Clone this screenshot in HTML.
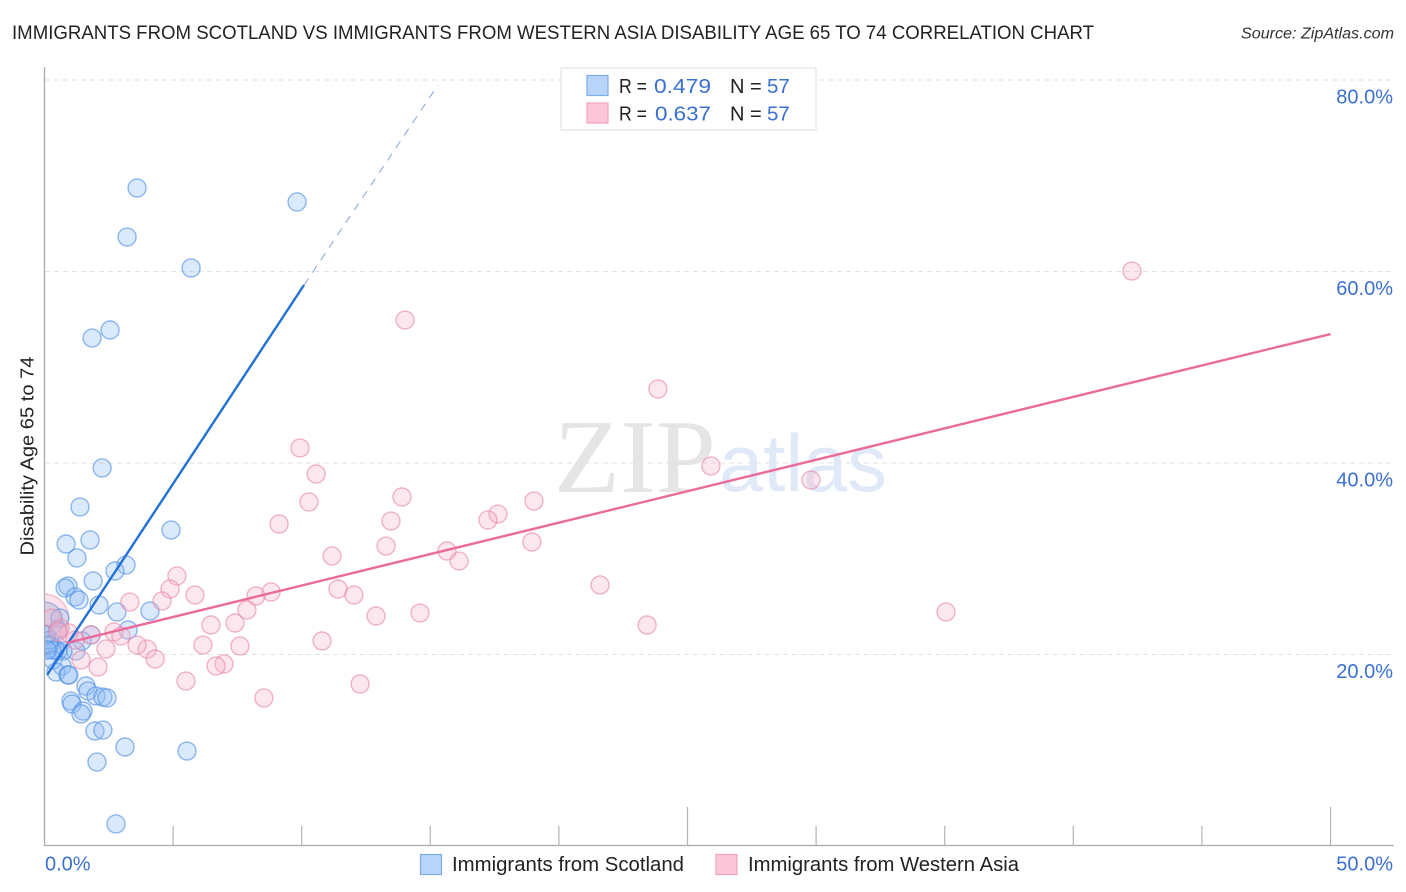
<!DOCTYPE html>
<html lang="en">
<head>
<meta charset="utf-8">
<title>Immigrants from Scotland vs Immigrants from Western Asia Disability Age 65 to 74 Correlation Chart</title>
<style>
html,body{margin:0;padding:0;background:#fff;width:1406px;height:892px;overflow:hidden}
svg{display:block}
text{font-family:"Liberation Sans",sans-serif}
</style>
</head>
<body>
<svg id="chart" xmlns="http://www.w3.org/2000/svg" width="1406" height="892" viewBox="0 0 1406 892">
  <defs>
    <clipPath id="plot-clip"><rect x="45" y="60" width="1349" height="785"/></clipPath>
  </defs>
  <rect x="0" y="0" width="1406" height="892" fill="#fff"/>
  <text x="12" y="39" font-size="19.5" fill="#222" textLength="1082" lengthAdjust="spacingAndGlyphs">IMMIGRANTS FROM SCOTLAND VS IMMIGRANTS FROM WESTERN ASIA DISABILITY AGE 65 TO 74 CORRELATION CHART</text>
  <text x="1241" y="38.5" font-size="15.5" font-style="italic" fill="#333" textLength="153" lengthAdjust="spacingAndGlyphs">Source: ZipAtlas.com</text>
  <g>
    <text x="554" y="492" font-size="105" fill="#e5e5e5" style="font-family:'Liberation Serif',serif" textLength="162" lengthAdjust="spacingAndGlyphs">ZIP</text>
    <text x="719" y="491" font-size="81" fill="#dfe9f8" textLength="168" lengthAdjust="spacingAndGlyphs">atlas</text>
  </g>
  <g id="grid"></g>
  <g id="axes"></g>
  <g id="points" clip-path="url(#plot-clip)"></g>
  <g id="trends"></g>
  <g id="ylabels"></g>
  <text transform="translate(33.5,456) rotate(-90)" text-anchor="middle" font-size="18.5" fill="#222" textLength="199" lengthAdjust="spacingAndGlyphs">Disability Age 65 to 74</text>
  <text x="45" y="870.500" font-size="20" fill="#3b70d2">0.0%</text>
  <text x="1393" y="870.500" text-anchor="end" font-size="20" fill="#3b70d2">50.0%</text>

  <g>
    <rect x="561" y="68" width="255" height="62" fill="#fff" stroke="#e2e2e2" stroke-width="1.2"/>
    <rect x="587" y="75.500" width="21" height="20" fill="#b8d4f9" stroke="#7dace8" stroke-width="1.2"/>
    <rect x="587" y="103" width="21" height="20" fill="#fcc8d9" stroke="#f1a2bb" stroke-width="1.2"/>
    <text x="619" y="93" font-size="20" fill="#222" textLength="28" lengthAdjust="spacingAndGlyphs">R =</text>
    <text x="654" y="93" font-size="20.500" fill="#3b70d2" textLength="57" lengthAdjust="spacingAndGlyphs">0.479</text>
    <text x="730" y="93" font-size="20" fill="#222">N =</text>
    <text x="767" y="93" font-size="20.500" fill="#3b70d2">57</text>
    <text x="619" y="120.500" font-size="20" fill="#222" textLength="28" lengthAdjust="spacingAndGlyphs">R =</text>
    <text x="655" y="120.500" font-size="20.500" fill="#3b70d2" textLength="56" lengthAdjust="spacingAndGlyphs">0.637</text>
    <text x="730" y="120.500" font-size="20" fill="#222">N =</text>
    <text x="767" y="120.500" font-size="20.500" fill="#3b70d2">57</text>
  </g>

  <g>
    <rect x="420.500" y="854.500" width="21" height="20" fill="#b8d4f9" stroke="#7dace8" stroke-width="1.2"/>
    <text x="452" y="871" font-size="20" fill="#222" textLength="232" lengthAdjust="spacingAndGlyphs">Immigrants from Scotland</text>
    <rect x="716" y="854.500" width="21" height="20" fill="#fcc8d9" stroke="#f1a2bb" stroke-width="1.2"/>
    <text x="748" y="871" font-size="20" fill="#222" textLength="271" lengthAdjust="spacingAndGlyphs">Immigrants from Western Asia</text>
  </g>
</svg>
<script>
const xTicks = [0, 5, 10, 15, 20, 25, 30, 35, 40, 45, 50];
const xMajorTicks = [25, 50];
const yTicks = [20, 40, 60, 80];
const yTickLabels = ['20.0%', '40.0%', '60.0%', '80.0%'];

const scotlandX = [3.60,9.82,3.21,5.70,2.55,1.85,2.24,1.38,4.92,1.77,0.84,3.17,1.26,2.74,0.91,0.80,1.89,1.19,1.34,2.12,2.82,4.10,0.60,3.25,1.81,1.46,1.22,0.72,0.52,0.41,0.29,0.21,0.17,0.33,0.68,0.45,0.91,0.95,1.61,1.69,1.03,1.07,2.00,2.27,2.43,1.50,1.42,1.96,2.27,3.13,5.54,2.04,2.78,0.52,0.06,0.10];
const scotlandY = [68.72,67.26,63.60,60.37,53.89,53.05,39.48,35.40,33.00,31.96,31.54,29.35,30.08,28.72,27.15,26.95,27.68,26.01,25.69,25.17,24.44,24.54,23.81,22.56,22.04,21.41,20.37,20.37,20.37,20.47,20.47,21.51,20.99,19.43,18.80,18.17,17.86,17.86,16.71,16.19,15.14,14.83,15.67,15.56,15.46,14.10,13.79,12.01,12.11,10.34,9.92,8.77,2.30,22.56,22.04,20.47];
const scotlandLargeX = [0.00];
const scotlandLargeY = [23.60];

const westernAsiaX = [42.28,14.02,23.85,9.93,10.56,25.91,29.80,10.28,9.12,13.90,13.47,19.03,17.63,17.24,13.28,11.18,15.65,16.12,18.95,21.60,5.15,4.88,5.85,4.57,3.32,11.41,12.03,8.81,8.22,7.87,12.89,14.60,35.05,23.43,6.47,7.41,10.79,7.60,6.16,3.99,3.60,2.70,2.97,4.30,2.39,6.98,6.67,5.50,12.27,8.53,2.08,1.42,1.19,0.95,0.60,0.29,1.81,0.52];
const westernAsiaY = [60.05,54.93,47.73,41.57,38.85,39.69,38.22,35.93,33.63,36.45,33.94,36.03,34.67,34.05,31.33,30.29,30.81,29.76,31.75,27.26,28.20,26.84,26.21,25.59,25.48,26.84,26.21,26.53,26.11,24.65,24.02,24.33,24.44,23.08,23.08,23.29,21.41,20.89,20.99,20.57,20.99,22.35,21.93,19.53,20.57,19.01,18.80,17.23,16.92,15.46,18.69,19.43,21.51,22.25,22.77,23.81,22.04,22.35];
const westernAsiaLargeX = [0.00];
const westernAsiaLargeY = [23.80];

const scotlandTrendSolidX = [0.10, 10.09];
const scotlandTrendSolidY = [17.86, 58.59];
const scotlandTrendDashedX = [10.09, 15.30];
const scotlandTrendDashedY = [58.59, 79.48];
const westernAsiaTrendX = [0.86, 50.00];
const westernAsiaTrendY = [21.20, 53.47];

const NS = 'http://www.w3.org/2000/svg';
const xScale = function (v) { return 44.5 + v * 25.72; };
const yScale = function (v) { return 846 - v * 9.575; };

function make(parent, tag, attrs) {
  const el = document.createElementNS(NS, tag);
  for (const k in attrs) el.setAttribute(k, attrs[k]);
  parent.appendChild(el);
  return el;
}

const grid = document.getElementById('grid');
const axes = document.getElementById('axes');
const ylabels = document.getElementById('ylabels');
const points = document.getElementById('points');
const trends = document.getElementById('trends');

yTicks.forEach(function (t, i) {
  const line = make(grid, 'line', { x1: 45, x2: 1394, y1: yScale(t), y2: yScale(t), stroke: '#e2e2e2', 'stroke-width': 1, 'stroke-dasharray': '5 4' });
  
  
  const label = make(ylabels, 'text', { x: 1393, y: yScale(t) + 23.5, 'text-anchor': 'end', 'font-size': 20, fill: '#3b70d2' });
  label.textContent = yTickLabels[i];
  
  
});

const yAxis = make(axes, 'line', { x1: 44.5, x2: 44.5, y1: 67, y2: 846, stroke: '#aaa', 'stroke-width': 1.3 });


const xAxis = make(axes, 'line', { x1: 44, x2: 1394, y1: 845.5, y2: 845.5, stroke: '#aaa', 'stroke-width': 1.3 });



xTicks.forEach(function (t) {
  if (t === 0) return;
  const top = xMajorTicks.indexOf(t) >= 0 ? 807 : 826;
  const tick = make(axes, 'line', { x1: xScale(t), x2: xScale(t), y1: top, y2: 845, stroke: '#b4b4b4', 'stroke-width': 1.2 });
  
  
});

function drawSeries(xs, ys, radius, fill, stroke, name) {
  xs.forEach(function (x, i) {
    const c = make(points, 'circle', {
      cx: xScale(x), cy: yScale(ys[i]), r: radius,
      fill: fill, 'fill-opacity': 0.32,
      stroke: stroke, 'stroke-opacity': 0.62, 'stroke-width': 1.4
    });
    
    
  });
}

drawSeries(westernAsiaLargeX, westernAsiaLargeY, 24, '#f6a8c2', '#ef9fb9', 'point-western-asia-large');
drawSeries(scotlandLargeX, scotlandLargeY, 18, '#8fa8d8', '#7d9bd0', 'point-scotland-large');
drawSeries(scotlandX, scotlandY, 9, '#8fbcf5', '#4f8fe4', 'point-scotland');
drawSeries(westernAsiaX, westernAsiaY, 9, '#f6b4ca', '#e988a9', 'point-western-asia');

function drawTrend(xs, ys, color, width, dash, name) {
  const line = make(trends, 'line', {
    x1: xScale(xs[0]), y1: yScale(ys[0]), x2: xScale(xs[1]), y2: yScale(ys[1]),
    stroke: color, 'stroke-width': width
  });
  if (dash) line.setAttribute('stroke-dasharray', dash);
  
  
}

drawTrend(scotlandTrendDashedX, scotlandTrendDashedY, '#7fa3dc', 1, '8 7', 'trend-scotland-projected');
drawTrend(scotlandTrendSolidX, scotlandTrendSolidY, '#2271d6', 2.4, null, 'trend-scotland');
drawTrend(westernAsiaTrendX, westernAsiaTrendY, '#ea6a9a', 2.4, null, 'trend-western-asia');
</script>
</body>
</html>
